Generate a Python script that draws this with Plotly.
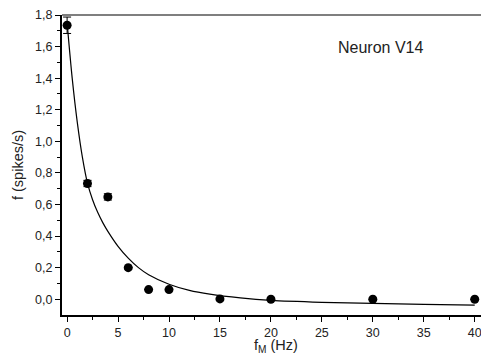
import plotly.graph_objects as go

# measured data points
fm_hz = [0, 2, 4, 6, 8, 10, 15, 20, 30, 40]
rate = [1.735, 0.733, 0.648, 0.200, 0.061, 0.061, 0.002, 0.0, 0.0, 0.0]
rate_err = [0.052, 0.02, 0.02, 0, 0, 0, 0, 0, 0, 0]

# fitted curve
fit_x = [0, 0.5, 1, 1.5, 2, 2.5, 3, 3.5, 4, 5, 6, 7, 8, 10, 12, 14, 17, 20, 25, 30, 35, 40]
fit_y = [1.75, 1.40, 1.12, 0.90, 0.735, 0.63, 0.55, 0.485, 0.43, 0.335, 0.26, 0.2, 0.155,
         0.095, 0.056, 0.032, 0.008, -0.008, -0.02, -0.027, -0.033, -0.038]

fig = go.Figure()
fig.add_trace(go.Scatter(x=fit_x, y=fit_y, mode="lines",
                         line=dict(color="black", width=1.2, shape="spline", smoothing=0.8),
                         showlegend=False, hoverinfo="skip"))
fig.add_trace(go.Scatter(x=fm_hz, y=rate, mode="markers",
                         marker=dict(color="black", size=9),
                         error_y=dict(type="data", array=rate_err, color="black", thickness=1, width=4),
                         showlegend=False))

font = "Liberation Sans, Arial, sans-serif"
# page body has an 8px margin, so the figure is sized to fit the window
fig.update_layout(
    width=481, height=347,
    margin=dict(l=54, r=0, t=7, b=40),
    paper_bgcolor="white", plot_bgcolor="white",
    separators=",.",
    font=dict(family=font, size=12.5, color="#222"),
    xaxis=dict(range=[-0.5, 41.4], showgrid=False, zeroline=False,
               showline=True, linecolor="black", linewidth=2,
               ticks="outside", ticklen=5, tickwidth=1, tickcolor="black",
               tickvals=[0, 5, 10, 15, 20, 25, 30, 35, 40],
               minor=dict(tickvals=[2.5, 7.5, 12.5, 17.5, 22.5, 27.5, 32.5, 37.5], ticks="outside", ticklen=3, tickcolor="black")),
    yaxis=dict(range=[-0.1, 1.8], showgrid=False, zeroline=False,
               showline=True, linecolor="black", linewidth=2,
               ticks="outside", ticklen=5, tickwidth=1, tickcolor="black",
               tickvals=[0, 0.2, 0.4, 0.6, 0.8, 1.0, 1.2, 1.4, 1.6, 1.8], tickformat=".1f",
               minor=dict(tickvals=[0.1, 0.3, 0.5, 0.7, 0.9, 1.1, 1.3, 1.5, 1.7], ticks="outside", ticklen=3, tickcolor="black"),
               title=dict(text="f (spikes/s)", standoff=8, font=dict(size=14.5))),
    shapes=[dict(type="line", xref="paper", yref="paper", x0=0, x1=1, y0=1, y1=1,
                 line=dict(color="#555", width=1.5))],
    annotations=[
        dict(text="Neuron V14", xref="paper", yref="paper", x=0.745, y=0.893,
             xanchor="center", yanchor="middle",
             showarrow=False, font=dict(size=16, color="#222")),
        dict(text="f<sub>M</sub> (Hz)", xref="paper", yref="paper", x=0.5, y=-0.1333,
             xanchor="center", yanchor="bottom", yshift=-1, borderpad=0,
             showarrow=False, font=dict(size=14.5, color="#222")),
    ],
)
fig.write_html("out.html")
